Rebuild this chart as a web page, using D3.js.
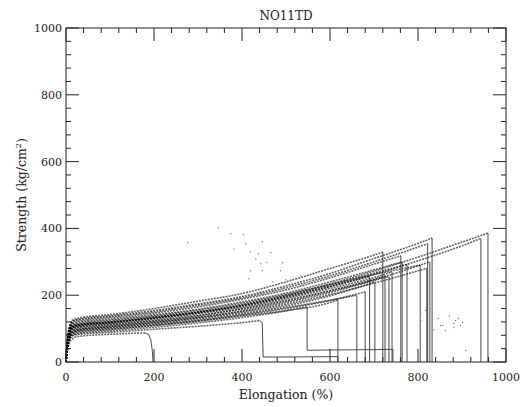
<!DOCTYPE html>
<html><head><meta charset="utf-8">
<script src="https://cdn.jsdelivr.net/npm/d3@7/dist/d3.min.js"></script>
<style>body{margin:0;background:#fff}svg{display:block}text{font-family:"DejaVu Serif",serif;fill:#222}</style>
</head><body><svg id="c" width="524" height="407"></svg>
<script>
// ---- data (elongation %, strength kg/cm2) ----
const title = "NO11TD";
const xTicks = [0, 200, 400, 600, 800, 1000];
const yTicks = [0, 200, 400, 600, 800, 1000];
// rising part of each specimen
const s01 = [[0,0],[3,32],[8,58],[15,70],[30,77],[100,83],[150,86],[180,87]];
const s02 = [[0,0],[3,38],[8,66],[15,78],[30,83],[100,89],[200,98],[300,107],[400,118],[440,124]];
const s03 = [[0,0],[3,42],[8,72],[15,86],[30,92],[100,99],[200,110],[300,122],[400,138],[500,154],[548,165]];
const s04 = [[0,0],[3,40],[8,70],[15,80],[30,86],[100,93],[200,104],[300,117],[400,133],[500,153],[600,178],[618,186]];
const s05 = [[0,0],[3,45],[8,75],[15,89],[30,95],[100,102],[200,113],[300,126],[400,143],[500,163],[600,185],[661,200]];
const s06 = [[0,0],[3,42],[8,72],[15,84],[30,90],[100,97],[200,109],[300,123],[400,140],[500,160],[600,184],[680,210]];
const s07 = [[0,0],[3,55],[8,92],[15,106],[30,112],[100,120],[200,134],[300,150],[400,170],[500,196],[600,226],[690,256]];
const s08 = [[0,0],[3,46],[8,78],[15,90],[30,96],[100,104],[200,116],[300,130],[400,147],[500,168],[600,198],[702,240]];
const s09 = [[0,0],[3,62],[8,108],[15,126],[30,132],[100,142],[200,160],[300,182],[400,205],[500,240],[600,280],[700,320],[720,329]];
const s10 = [[0,0],[3,50],[8,84],[15,98],[30,104],[100,111],[200,123],[300,138],[400,160],[500,185],[600,214],[700,248],[725,258]];
const s11 = [[0,0],[3,52],[8,90],[15,102],[30,108],[100,116],[200,129],[300,145],[400,164],[500,190],[600,220],[700,253],[741,270]];
const s12 = [[0,0],[3,58],[8,100],[15,112],[30,118],[100,127],[200,141],[300,158],[400,180],[500,206],[600,240],[700,276],[764,300]];
const s13 = [[0,0],[3,56],[8,96],[15,109],[30,115],[100,124],[200,138],[300,155],[400,176],[500,202],[600,232],[700,262],[805,290]];
const s14 = [[0,0],[3,48],[8,82],[15,94],[30,100],[100,108],[200,120],[300,134],[400,151],[500,173],[600,202],[700,236],[800,273],[820,281]];
const s15 = [[0,0],[3,50],[8,86],[15,99],[30,105],[100,113],[200,125],[300,140],[400,158],[500,182],[600,212],[700,246],[800,288],[827,300]];
const s16 = [[0,0],[3,60],[8,102],[15,122],[30,128],[100,138],[200,154],[300,174],[400,196],[500,228],[600,265],[700,310],[800,355],[832,371]];
const s17 = [[0,0],[3,52],[8,88],[15,104],[30,110],[100,118],[200,131],[300,147],[400,167],[500,193],[600,225],[700,262],[800,303],[900,348],[943,370]];
const s18 = [[0,0],[3,54],[8,92],[15,106],[30,112],[100,120],[200,134],[300,150],[400,172],[500,200],[600,234],[700,272],[800,314],[900,359],[959,386]];
const s19 = [[0,0],[3,47],[8,80],[15,92],[30,98],[100,106],[200,118],[300,133],[400,153],[500,178],[600,208],[700,244],[734,256]];
const s20 = [[0,0],[3,57],[8,98],[15,115],[30,122],[100,131],[200,146],[300,165],[400,188],[500,216],[600,252],[700,293],[761,318]];
const s21 = [[0,0],[3,53],[8,91],[15,104],[30,110],[100,118],[200,132],[300,149],[400,169],[500,197],[600,230],[700,266],[775,292]];
const s22 = [[0,0],[3,60],[8,104],[15,120],[30,126],[100,135],[200,150],[300,170],[400,192],[500,222],[600,258],[700,300],[800,344],[822,354]];
// breaking part of each specimen (drop, torn tail, final drop)
const t01 = [[180,87],[188,82],[193,65],[196,35],[198,0]];
const t02 = [[440,124],[446,118],[448,15],[500,15],[600,16],[618,16],[618,0]];
const t03 = [[548,165],[548,35],[600,36],[700,37],[743,38],[743,0]];
const t04 = [[618,186],[618,0]];
const t05 = [[661,200],[661,0]];
const t06 = [[680,210],[680,0]];
const t07 = [[690,256],[690,0]];
const t08 = [[702,240],[702,0]];
const t09 = [[720,329],[720,0]];
const t10 = [[725,258],[725,0]];
const t11 = [[741,270],[741,0]];
const t12 = [[764,300],[764,0]];
const t13 = [[805,290],[805,0]];
const t14 = [[820,281],[820,0]];
const t15 = [[827,300],[827,0]];
const t16 = [[832,371],[832,0]];
const t17 = [[943,370],[943,0]];
const t18 = [[959,386],[959,0]];
const t19 = [[734,256],[734,0]];
const t20 = [[761,318],[761,0]];
const t21 = [[775,292],[775,0]];
const t22 = [[822,354],[822,0]];
// stray points in the record
const strayV = [345,373,402,407,418,445,436,441,464,491,486,418,445,414,498,532,468,493,275,380,430,455,
                855,861,880,884,891,895,880,907,805,805,816,845,850,870,900,835];
const strayS = [404,386,383,356,332,362,326,296,329,299,275,275,275,251,248,260,242,224,359,340,310,300,
                111,96,117,126,132,111,105,36,147,126,156,132,111,140,120,98];

const rises = [s01,s02,s03,s04,s05,s06,s07,s08,s09,s10,s11,s12,s13,s14,s15,s16,s17,s18,s19,s20,s21,s22];
const tails = [t01,t02,t03,t04,t05,t06,t07,t08,t09,t10,t11,t12,t13,t14,t15,t16,t17,t18,t19,t20,t21,t22];

// ---- layout ----
const svg = d3.select("#c");
const L = 66, R = 506, T = 28, B = 362;
const x = d3.scaleLinear().domain([0,1000]).range([L,R]);
const y = d3.scaleLinear().domain([0,1000]).range([B,T]);

const g = svg.append("g");
const riseLine = d3.line().x(d=>x(d[0])).y(d=>y(d[1])).curve(d3.curveMonotoneX);
const tailLine = d3.line().x(d=>x(d[0])).y(d=>y(d[1]));

g.selectAll("path.rise").data(rises).join("path").attr("class","rise")
  .attr("d", riseLine).attr("fill","none").attr("stroke","#000").attr("stroke-opacity",0.6)
  .attr("stroke-width",1.6).attr("stroke-dasharray","2,1");
g.selectAll("path.tail").data(tails).join("path").attr("class","tail")
  .attr("d", tailLine).attr("fill","none").attr("stroke","#333").attr("stroke-width",0.9);

g.selectAll("rect.stray").data(strayV.map((v,i)=>[v,strayS[i]])).join("rect").attr("class","stray")
  .attr("x", d=>x(d[0])).attr("y", d=>y(d[1])).attr("width",1.2).attr("height",1.2).attr("fill","#777");

// ---- frame & ticks ----
const minor = d3.range(0,1001,40);
const ax = svg.append("g").attr("stroke","#222").attr("stroke-width",1).attr("fill","none");
ax.append("rect").attr("x",L).attr("y",T).attr("width",R-L).attr("height",B-T);
function isMajor(v){return v%200===0;}
minor.forEach(v=>{
  const len = isMajor(v)?13:5;
  ax.append("line").attr("x1",x(v)).attr("x2",x(v)).attr("y1",B).attr("y2",B-len);
  ax.append("line").attr("x1",x(v)).attr("x2",x(v)).attr("y1",T).attr("y2",T+len);
  ax.append("line").attr("y1",y(v)).attr("y2",y(v)).attr("x1",L).attr("x2",L+len);
  ax.append("line").attr("y1",y(v)).attr("y2",y(v)).attr("x1",R).attr("x2",R-len);
});

svg.selectAll("text.xt").data(xTicks).join("text").attr("class","xt")
  .attr("x",d=>x(d)).attr("y",B+19).attr("text-anchor","middle").attr("font-size",11).text(d=>d);
svg.selectAll("text.yt").data(yTicks).join("text").attr("class","yt")
  .attr("x",L-4).attr("y",d=>y(d)+4).attr("text-anchor","end").attr("font-size",11).text(d=>d);

svg.append("text").attr("x",(L+R)/2).attr("y",20).attr("text-anchor","middle").attr("font-size",12).text(title);
svg.append("text").attr("x",(L+R)/2).attr("y",399).attr("text-anchor","middle").attr("font-size",12.5).text("Elongation (%)");
const yl = svg.append("text").attr("transform",`translate(26,${(T+B)/2}) rotate(-90)`).attr("text-anchor","middle").attr("font-size",12.5);
yl.append("tspan").text("Strength (kg/cm");
yl.append("tspan").attr("font-size",8).attr("dy",-5).text("2");
yl.append("tspan").attr("dy",5).text(")");
</script></body></html>
